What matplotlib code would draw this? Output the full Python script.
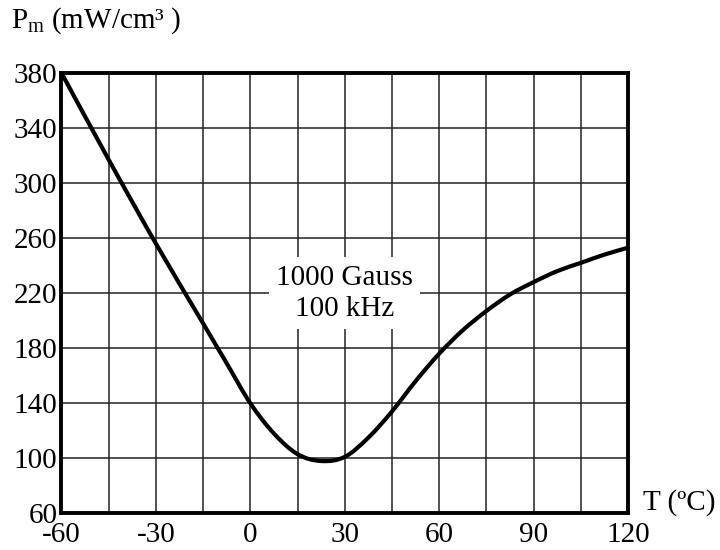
import matplotlib
matplotlib.use("Agg")
import matplotlib.pyplot as plt
from matplotlib.path import Path
from matplotlib.patches import PathPatch
import numpy as np

plt.rcParams["font.family"] = ["Liberation Serif", "DejaVu Serif"]
plt.rcParams["mathtext.fontset"] = "custom"
plt.rcParams["mathtext.rm"] = "Liberation Serif"
plt.rcParams["mathtext.it"] = "Liberation Serif:italic"
plt.rcParams["axes.unicode_minus"] = False

# core loss vs temperature
temp = [-60, -45, -30, -15, -7.5, 0, 7.5, 15, 22.5, 30, 37.5, 45,
        52.5, 60, 67.5, 75, 82.5, 90, 97.5, 105, 112.5, 120]
loss = [380, 317, 256, 198, 169, 140, 118, 103, 98, 101, 115, 134,
        156, 176, 193, 207, 219, 228, 236, 242, 248, 253]

x_ticks = [-60, -30, 0, 30, 60, 90, 120]
y_ticks = [60, 100, 140, 180, 220, 260, 300, 340, 380]
note = "1000 Gauss\n100 kHz"


def smooth_path(xs, ys):
    # catmull-rom through the read points, drawn as cubic bezier segments
    p = np.column_stack([xs, ys]).astype(float)
    verts = [p[0]]
    codes = [Path.MOVETO]
    n = len(p)
    for i in range(n - 1):
        p0 = p[i - 1] if i > 0 else p[i]
        p1, p2 = p[i], p[i + 1]
        p3 = p[i + 2] if i + 2 < n else p[i + 1]
        c1 = p1 + (p2 - p0) / 6.0
        c2 = p2 - (p3 - p1) / 6.0
        verts += [c1, c2, p2]
        codes += [Path.CURVE4] * 3
    return Path(verts, codes)


fig = plt.figure(figsize=(7.2, 5.5), dpi=100)
ax = fig.add_axes([0.0854, 0.0667, 0.7868, 0.8006])

curve = PathPatch(smooth_path(temp, loss), facecolor="none", edgecolor="black",
                  linewidth=3.0, capstyle="round", joinstyle="round", zorder=4,
                  clip_on=False)
ax.add_patch(curve)

ax.set_xlim(-60, 120)
ax.set_ylim(60, 380)
ax.set_xticks(x_ticks)
ax.set_xticks(np.arange(-60, 121, 15), minor=True)
ax.set_yticks(y_ticks)
ax.tick_params(which="both", length=0, labelsize=21)
ax.tick_params(axis="x", pad=6)
ax.tick_params(axis="y", pad=3)
ax.grid(True, which="both", axis="x", color="#222222", linewidth=1.1)
ax.grid(True, which="major", axis="y", color="#222222", linewidth=1.1)
for s in ax.spines.values():
    s.set_linewidth(2.8)

ax.text(30, 220, note, ha="center", va="center", fontsize=21,
        linespacing=1.25, zorder=3,
        bbox=dict(boxstyle="square,pad=0.25", facecolor="white", edgecolor="none"))

fig.text(0.015, 0.935, "P$_{\\mathrm{m}}$ (mW/cm³ )", fontsize=21, ha="left", va="bottom")
fig.text(0.893, 0.087, "T (ºC)", fontsize=21, ha="left", va="center")

plt.savefig("out.png", dpi=100)
